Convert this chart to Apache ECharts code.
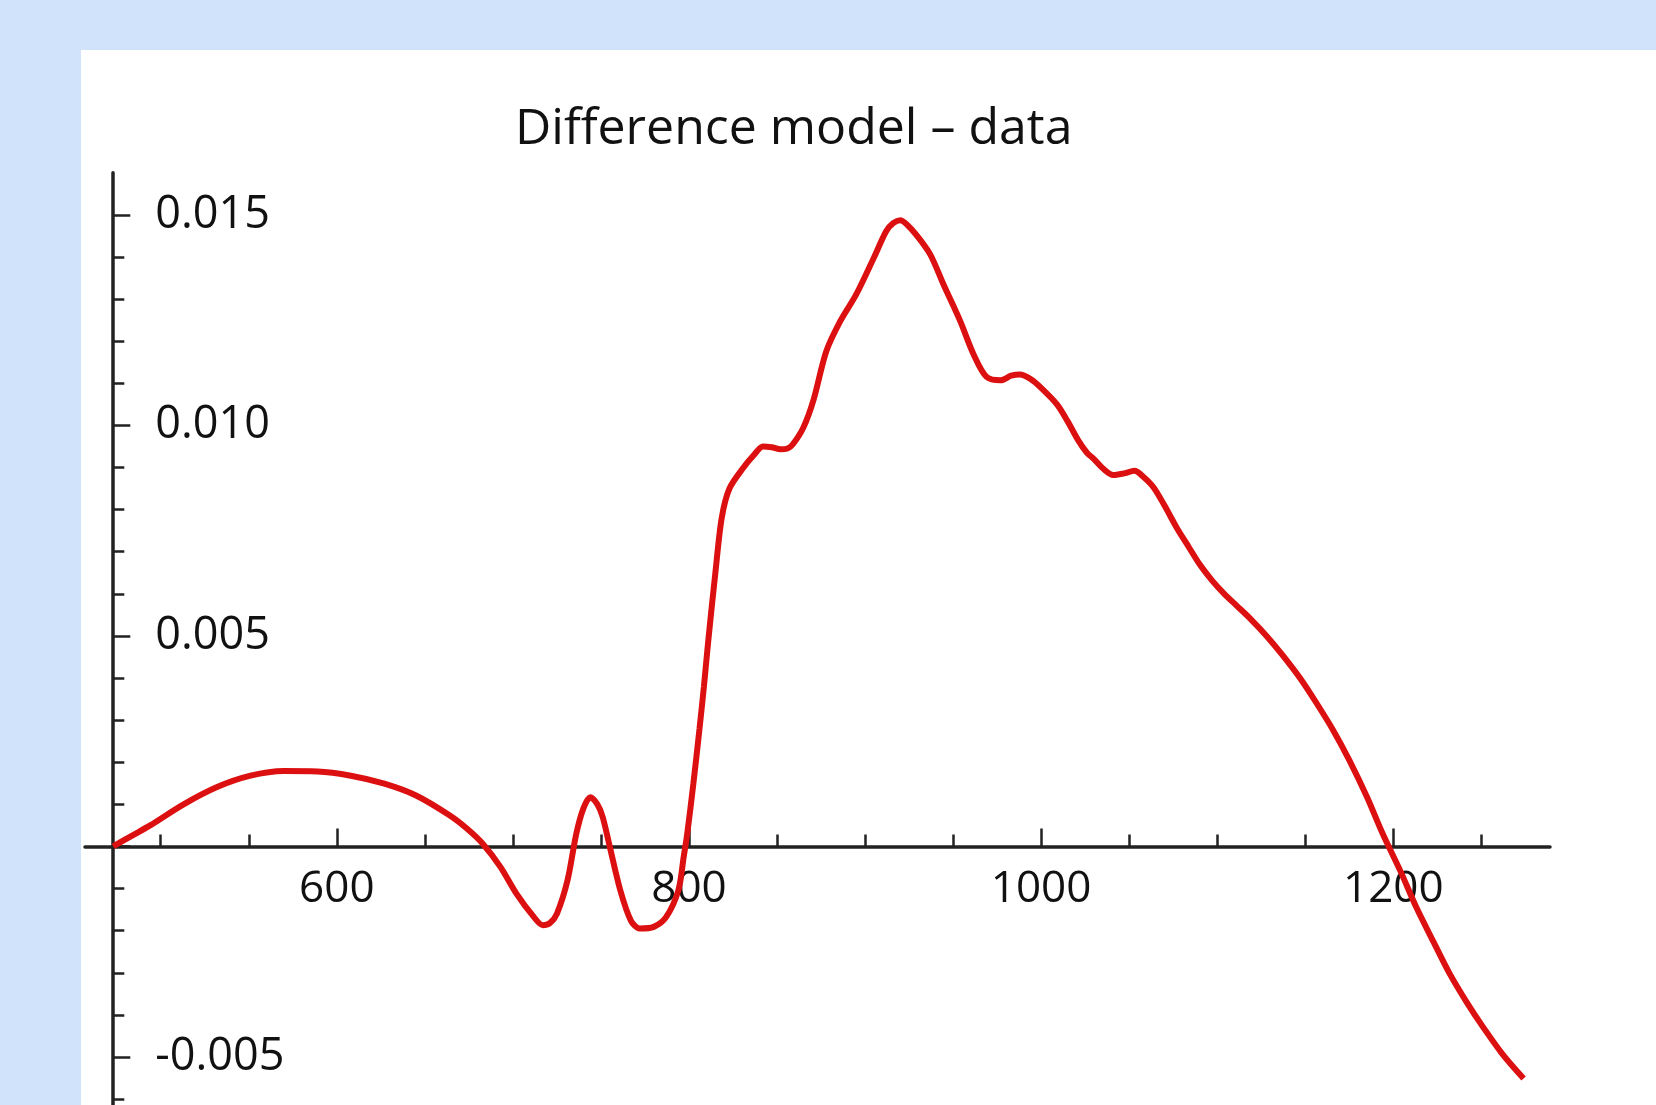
<!DOCTYPE html>
<html>
<head>
<meta charset="utf-8">
<script src="https://cdn.jsdelivr.net/npm/echarts@6/dist/echarts.min.js"></script>
<style>
  html, body { margin: 0; padding: 0; width: 1656px; height: 1105px; overflow: hidden; background: #d0e3fa; }
  #panel { position: absolute; left: 81px; top: 50px; right: 0; bottom: 0; background: #ffffff; }
  #chart { position: absolute; left: 0; top: 0; width: 1656px; height: 1105px; }
</style>
</head>
<body>
<div id="panel"></div>
<div id="chart"></div>
<script>
// ---- data ----
const titleText = 'Difference model \u2013 data';

const xValues = [
  473, 483, 494, 513, 532, 551, 570, 589, 608, 627, 645, 664, 674, 683, 693, 702, 712, 717, 721, 725,
  731, 736, 740, 744, 748, 751, 755, 761, 767, 772, 780, 787, 794, 797, 799, 802.5, 806, 808.5, 811, 815,
  818.6, 823, 831, 837, 842, 847, 852, 856, 859, 865, 870.7, 878, 886, 895, 905, 912, 916, 920, 924, 929,
  937, 944.5, 954, 961.6, 969, 977, 983, 988, 994, 1000, 1009, 1015, 1021, 1026, 1030, 1035, 1041, 1047, 1053, 1058,
  1064, 1070, 1077, 1084, 1090, 1097, 1104, 1111, 1119, 1128, 1137, 1147, 1156, 1166, 1175, 1185, 1194, 1204, 1213,
  1223, 1232, 1242, 1251, 1262, 1274
];
const yValues = [
  0, 0.00024, 0.0005, 0.001, 0.00141, 0.00168, 0.00179, 0.00178, 0.00168, 0.00149, 0.00121, 0.00074, 0.00042, 0.00006, -0.00049, -0.00112, -0.00168, -0.00187, -0.00182, -0.0016,
  -0.00081, 0.0003, 0.0009, 0.00117, 0.001, 0.0007, 0, -0.00104, -0.00176, -0.00195, -0.00191, -0.00168, -0.00104, -0.00025, 0.0003, 0.00149, 0.0028, 0.0038, 0.0049, 0.0065,
  0.0078, 0.0085, 0.009, 0.0093, 0.0095, 0.00948, 0.00943, 0.00945, 0.00955, 0.00995, 0.0106, 0.01176, 0.01248, 0.01311, 0.01398, 0.01461, 0.0148, 0.01487, 0.01476, 0.01453,
  0.01406, 0.01335, 0.01248, 0.01169, 0.01115, 0.01107, 0.01118, 0.01121, 0.0111, 0.01089, 0.0105, 0.0101, 0.00965, 0.00935, 0.0092, 0.00898, 0.00882, 0.00886, 0.00892, 0.00878,
  0.00852, 0.0081, 0.00757, 0.0071, 0.0067, 0.00632, 0.006, 0.00572, 0.0054, 0.005, 0.00455, 0.004, 0.00343, 0.00275, 0.00205, 0.00118, 0.0003, -0.00058, -0.00144,
  -0.00228, -0.00302, -0.00372, -0.00429, -0.00493, -0.00551
];

const xMajorTicks = [600, 800, 1000, 1200];
const xMinorTicks = [500, 550, 650, 700, 750, 850, 900, 950, 1050, 1100, 1150, 1250];
const xLabelValues = [600, 800, 1000, 1200];

const yMajorTicks = [-0.005, 0, 0.005, 0.010, 0.015];
const yMinorTicks = [-0.006, -0.004, -0.003, -0.002, -0.001, 0.001, 0.002, 0.003, 0.004,
                     0.006, 0.007, 0.008, 0.009, 0.011, 0.012, 0.013, 0.014];
const yLabelValues = [-0.005, 0.005, 0.010, 0.015];

const xRange = [457, 1289];
const yRange = [-0.00614, 0.016];

// ---- layout ----
const plotTop = 172.7, plotHeight = 932.3;
const plotLeft = 85, plotWidth = 1465;
const yAxisLeft = 112.3;
// the horizontal axis sits where the vertical scale is zero
const zeroOffset = plotHeight * yRange[1] / (yRange[1] - yRange[0]);

const points = xValues.map((x, i) => [x, yValues[i]]);
const axisColor = '#222222';
const font = '"Open Sans", "Noto Sans", sans-serif';

const chart = echarts.init(document.getElementById('chart'), null, { renderer: 'canvas' });
chart.setOption({
  backgroundColor: 'transparent',
  animation: false,
  title: {
    text: titleText,
    left: 510,
    top: 100,
    textStyle: { fontFamily: font, fontSize: 50, fontWeight: 'normal', color: '#111' }
  },
  grid: [
    { left: plotLeft, top: plotTop, width: plotWidth, height: plotHeight, outerBoundsMode: 'none', containLabel: false },
    { left: yAxisLeft, top: plotTop, width: 200, height: plotHeight, outerBoundsMode: 'none', containLabel: false },
    { left: plotLeft, top: plotTop, width: plotWidth, height: zeroOffset, outerBoundsMode: 'none', containLabel: false }
  ],
  xAxis: [
    { type: 'value', gridIndex: 0, min: xRange[0], max: xRange[1], show: false },
    { type: 'value', gridIndex: 1, min: 0, max: 1, show: false },
    {
      type: 'value', gridIndex: 2, min: xRange[0], max: xRange[1], position: 'bottom',
      axisLine: { show: true, onZero: false, lineStyle: { color: axisColor, width: 3.5 } },
      axisTick: { show: true, inside: true, length: 18, customValues: xMajorTicks, lineStyle: { color: axisColor, width: 2.5 } },
      axisLabel: { show: true, customValues: xLabelValues, margin: 21, formatter: v => String(v),
                   fontFamily: font, fontSize: 44, color: '#111' },
      splitLine: { show: false }
    },
    {
      type: 'value', gridIndex: 2, min: xRange[0], max: xRange[1], position: 'bottom',
      axisLine: { show: false, onZero: false },
      axisTick: { show: true, inside: true, length: 12, customValues: xMinorTicks, lineStyle: { color: axisColor, width: 2.5 } },
      axisLabel: { show: false },
      splitLine: { show: false }
    }
  ],
  yAxis: [
    { type: 'value', gridIndex: 0, min: yRange[0], max: yRange[1], show: false },
    {
      type: 'value', gridIndex: 1, min: yRange[0], max: yRange[1], position: 'left',
      axisLine: { show: true, onZero: false, lineStyle: { color: axisColor, width: 3.5 } },
      axisTick: { show: true, inside: true, length: 18, customValues: yMajorTicks, lineStyle: { color: axisColor, width: 2.5 } },
      axisLabel: {
        show: true, inside: true, margin: 43, customValues: yLabelValues,
        formatter: v => v.toFixed(3),
        fontFamily: font, fontSize: 45, color: '#111'
      },
      splitLine: { show: false }
    },
    {
      type: 'value', gridIndex: 1, min: yRange[0], max: yRange[1], position: 'left',
      axisLine: { show: false, onZero: false },
      axisTick: { show: true, inside: true, length: 12, customValues: yMinorTicks, lineStyle: { color: axisColor, width: 2.5 } },
      axisLabel: { show: false },
      splitLine: { show: false }
    },
    { type: 'value', gridIndex: 2, min: 0, max: 1, show: false }
  ],
  series: [
    {
      type: 'line',
      xAxisIndex: 0,
      yAxisIndex: 0,
      data: points,
      showSymbol: false,
      smooth: 0.3,
      lineStyle: { color: '#dc1010', width: 6 },
      z: 5
    }
  ]
});
</script>
</body>
</html>
